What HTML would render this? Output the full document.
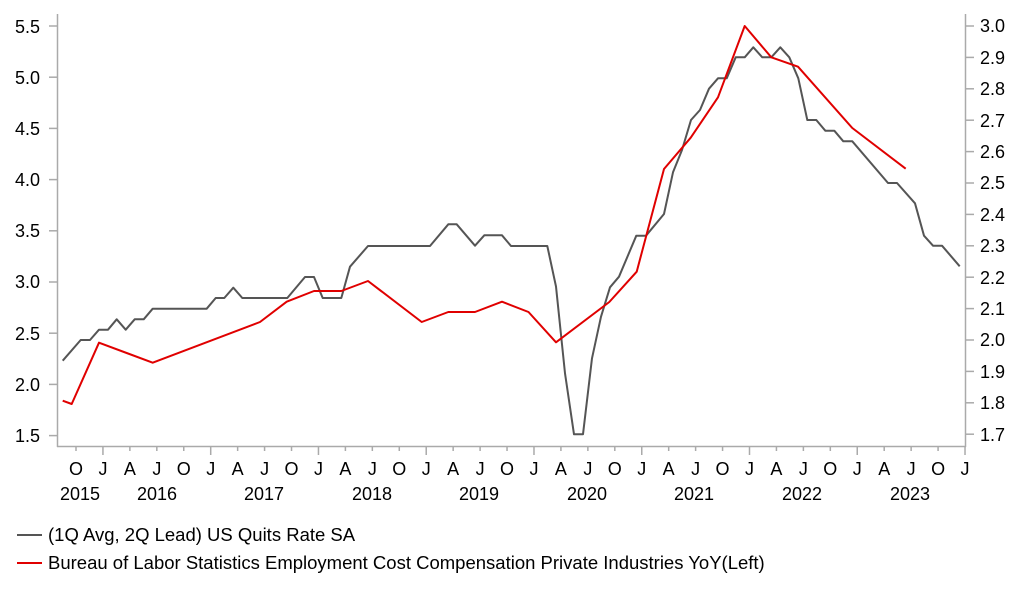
<!DOCTYPE html>
<html><head><meta charset="utf-8"><style>
html,body{margin:0;padding:0;background:#fff;}
svg{display:block;font-family:"Liberation Sans",Arial,sans-serif;}
</style></head><body>
<svg width="1022" height="597" viewBox="0 0 1022 597">
<g stroke="#aaa" stroke-width="1.5" fill="none">
<line x1="57.5" y1="14" x2="57.5" y2="447"/>
<line x1="965.5" y1="14" x2="965.5" y2="447"/>
<line x1="57" y1="446.5" x2="966" y2="446.5"/>
</g>
<g stroke="#aaa" stroke-width="1.5">
<line x1="49" y1="26" x2="57" y2="26"/><line x1="49" y1="77.2" x2="57" y2="77.2"/><line x1="49" y1="128.4" x2="57" y2="128.4"/><line x1="49" y1="179.6" x2="57" y2="179.6"/><line x1="49" y1="230.8" x2="57" y2="230.8"/><line x1="49" y1="282" x2="57" y2="282"/><line x1="49" y1="333.2" x2="57" y2="333.2"/><line x1="49" y1="384.4" x2="57" y2="384.4"/><line x1="49" y1="435.6" x2="57" y2="435.6"/>
</g>
<g stroke="#aaa" stroke-width="1.5">
<line x1="966" y1="26" x2="974" y2="26"/><line x1="966" y1="57.4" x2="974" y2="57.4"/><line x1="966" y1="88.8" x2="974" y2="88.8"/><line x1="966" y1="120.2" x2="974" y2="120.2"/><line x1="966" y1="151.6" x2="974" y2="151.6"/><line x1="966" y1="183" x2="974" y2="183"/><line x1="966" y1="214.4" x2="974" y2="214.4"/><line x1="966" y1="245.8" x2="974" y2="245.8"/><line x1="966" y1="277.2" x2="974" y2="277.2"/><line x1="966" y1="308.6" x2="974" y2="308.6"/><line x1="966" y1="340" x2="974" y2="340"/><line x1="966" y1="371.4" x2="974" y2="371.4"/><line x1="966" y1="402.8" x2="974" y2="402.8"/><line x1="966" y1="434.2" x2="974" y2="434.2"/>
</g>
<g font-size="18" fill="#000" text-anchor="end">
<text x="40" y="33">5.5</text><text x="40" y="84">5.0</text><text x="40" y="135">4.5</text><text x="40" y="186">4.0</text><text x="40" y="237">3.5</text><text x="40" y="288">3.0</text><text x="40" y="340">2.5</text><text x="40" y="391">2.0</text><text x="40" y="442">1.5</text>
</g>
<g font-size="18" fill="#000" text-anchor="start">
<text x="980" y="32">3.0</text><text x="980" y="64">2.9</text><text x="980" y="95">2.8</text><text x="980" y="127">2.7</text><text x="980" y="158">2.6</text><text x="980" y="189">2.5</text><text x="980" y="221">2.4</text><text x="980" y="252">2.3</text><text x="980" y="284">2.2</text><text x="980" y="315">2.1</text><text x="980" y="346">2.0</text><text x="980" y="378">1.9</text><text x="980" y="409">1.8</text><text x="980" y="441">1.7</text>
</g>
<g id="xt" stroke="#aaa" stroke-width="1.5"></g>
<g id="xl" font-size="18" fill="#000" text-anchor="middle"></g>
<g font-size="18" fill="#000" text-anchor="middle">
<text x="80" y="500">2015</text><text x="157" y="500">2016</text><text x="264" y="500">2017</text><text x="372" y="500">2018</text><text x="479" y="500">2019</text><text x="587" y="500">2020</text><text x="694" y="500">2021</text><text x="802" y="500">2022</text><text x="910" y="500">2023</text>
</g>
<polyline fill="none" stroke="#555" stroke-width="2" stroke-linejoin="round" points="62.7,360.7 80.7,340 90,340 99,329.7 108,329.7 116.7,319.3 125.7,329.7 134.7,319.3 143.7,319.3 152.7,308.7 206.7,308.7 215.7,298 224.3,298 233.3,287.7 242.3,298 287.3,298 305,277 314,277 322.7,298 341.3,298 350,266.7 368,246 430,246 448.3,224.3 456.7,224.3 475,245.7 484.3,235.3 502,235.3 511,246 547.3,246 556,286.5 565,373.3 574,434.3 583,434.3 592,358.3 601,316.7 610,287.3 619,276.7 636.3,235.7 646,235.7 664,214 673,172.3 682,150 691,120 700,110 709,88.7 718,78.3 726.7,78.3 735.7,57.3 744.7,57.3 753.3,47.3 762.3,57.3 771.3,57.3 780.3,47.3 789.3,57.3 798.3,78.3 807.3,120 816.3,120 825.3,130.7 834.3,130.7 843.3,141.3 852.3,141.3 888,183 897,183 915,203.3 924,235.7 933,245.7 942,245.7 959.7,266.3"/>
<polyline fill="none" stroke="#e00000" stroke-width="2" stroke-linejoin="round" points="62.7,400.7 71.7,404 99,342.7 152.7,362.7 260,322 286.7,301.7 314,291 341.3,291 368,281 421.7,322 448.3,312 475,312 502,301.7 528.5,312 556,342.3 609.3,302 636.7,271.7 664,169 690.7,137.7 718,97.3 744.7,26 771.3,57.3 798,66.7 852.3,128 905.7,168.7"/>
<line x1="17" y1="535" x2="42" y2="535" stroke="#555" stroke-width="2"/>
<text x="48" y="541" font-size="18.5" fill="#000">(1Q Avg, 2Q Lead) US Quits Rate SA</text>
<line x1="17" y1="563" x2="42" y2="563" stroke="#e00000" stroke-width="2"/>
<text x="48" y="569" font-size="18.5" fill="#000">Bureau of Labor Statistics Employment Cost Compensation Private Industries YoY(Left)</text>
</svg>
<script>
var t=document.getElementById('xt'),l=document.getElementById('xl'),m=['O','J','A','J'],ns='http://www.w3.org/2000/svg';
for(var k=0;k<=33;k++){var x=76+k*26.94;
var ln=document.createElementNS(ns,'line');ln.setAttribute('x1',x);ln.setAttribute('x2',x);ln.setAttribute('y1',447);ln.setAttribute('y2',k%4==1?455:451);t.appendChild(ln);
var tx=document.createElementNS(ns,'text');tx.setAttribute('x',x);tx.setAttribute('y',475);tx.textContent=m[k%4];l.appendChild(tx);}
</script>
</body></html>
